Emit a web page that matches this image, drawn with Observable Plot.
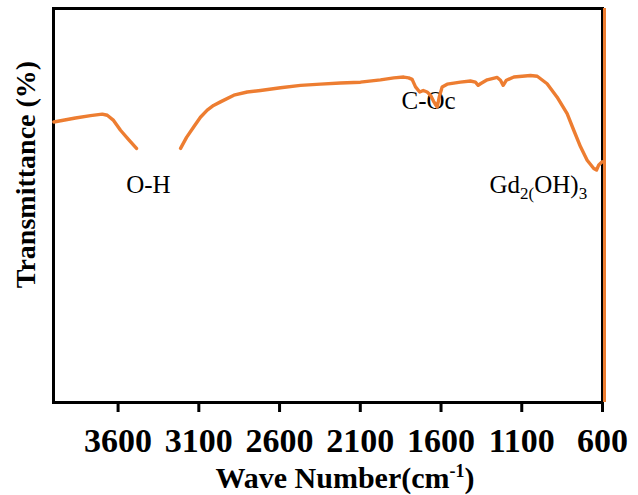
<!DOCTYPE html>
<html><head><meta charset="utf-8">
<script src="https://cdn.jsdelivr.net/npm/d3@7"></script>
<script src="https://cdn.jsdelivr.net/npm/@observablehq/plot@0.6"></script>
<style>body{margin:0;background:#fff}</style>
</head><body><div id="chart"></div>
<script>
// FTIR spectrum (wave number in cm-1, transmittance in arbitrary %)
const waveNumber = [3998,3864,3771,3698,3667,3628,3585,3536,3486,3350,3213,3176,3131,3090,3048,3009,2966,2883,2800,2718,2594,2470,2346,2223,2099,1975,1892,1831,1801,1779,1758,1732,1710,1686,1665,1647,1624,1610,1593,1562,1480,1418,1387,1370,1356,1314,1252,1232,1215,1195,1149,1046,1004,943,881,819,778,736,695,654,637,623,602];
const transmittance = [71.2,72.2,72.8,73.2,72.9,71.6,69.1,66.8,64.5,NaN,64.5,67.3,70.0,72.4,74.2,75.4,76.3,78.0,78.8,79.2,79.9,80.5,80.8,81.1,81.3,81.9,82.4,82.6,82.4,82.0,80.1,78.8,79.2,78.8,78.0,76.5,75.0,77.7,80.1,80.8,81.3,81.6,81.3,80.5,80.9,81.9,82.5,81.8,80.5,81.8,82.6,83.0,82.8,80.9,77.5,73.3,69.1,64.9,61.5,59.4,59.0,60.3,61.1];
const xTicks = [3600,3100,2600,2100,1600,1100,600];
const bandNames = ["O-H","C-Oc","Gd2(OH)3"];
const bandWave = [3412,1845,1300];
const bandLevel = [53.2,74.4,53.2];
const edgeWave = [600];
const xTitle = "Wave Number(cm-1)";
const yTitle = "Transmittance (%)";

const spectrum = waveNumber.map((w, i) => ({w, t: transmittance[i]}));
const bands = bandNames.map((n, i) => ({n, w: bandWave[i], t: bandLevel[i]}));
const orange = "#ED7D31";
const serif = "'Liberation Serif','Times New Roman',serif";

const chart = Plot.plot({
  width: 638,
  height: 495,
  marginLeft: 53,
  marginRight: 36,
  marginTop: 8,
  marginBottom: 93,
  style: {fontFamily: serif, background: "#fff", color: "#000"},
  x: {domain: [4000, 600]},
  y: {domain: [0, 100], axis: null},
  marks: [
    Plot.axisX({ticks: xTicks, tickSize: 10, strokeWidth: 3, text: null, label: null}),
    Plot.text(xTicks, {x: d => d, frameAnchor: "bottom", dy: 39, text: d => String(d), fontSize: 34, fontWeight: "bold", textAnchor: "middle", lineAnchor: "middle", fill: "#000"}),
    Plot.text(bands.filter(d => d.n === "O-H"), {x: "w", y: "t", text: "n", textAnchor: "middle", lineAnchor: "bottom", fontSize: 25, fill: "#000"}),
    Plot.text(bands.filter(d => d.n !== "O-H"), {x: "w", y: "t", text: "n", textAnchor: "start", lineAnchor: "bottom", fontSize: 25, fill: "#000"}),
    Plot.text([yTitle], {frameAnchor: "left", rotate: -90, dx: -27, dy: -31, fontSize: 28, fontWeight: "bold", textAnchor: "middle", lineAnchor: "middle", fill: "#000"}),
    Plot.text([xTitle], {frameAnchor: "bottom", dx: 17, dy: 76, fontSize: 30, fontWeight: "bold", textAnchor: "middle", lineAnchor: "middle", fill: "#000"}),
    Plot.frame({stroke: "#000", strokeWidth: 3}),
    Plot.line(spectrum, {x: "w", y: "t", stroke: orange, strokeWidth: 3.4, curve: "linear"}),
    Plot.ruleX(edgeWave, {stroke: orange, strokeWidth: 3, dx: 2})
  ]
});
document.getElementById("chart").appendChild(chart);

// subscripts / superscripts in text
const svg = d3.select(chart);
svg.selectAll("text").each(function() {
  const t = d3.select(this);
  const s = this.textContent;
  if (s === "Gd2(OH)3") {
    t.text(null);
    t.append("tspan").text("Gd");
    t.append("tspan").attr("font-size", 17).attr("dy", 6).text("2(");
    t.append("tspan").attr("dy", -6).text("OH)");
    t.append("tspan").attr("font-size", 17).attr("dy", 6).text("3");
  } else if (s === xTitle) {
    t.text(null);
    t.append("tspan").text("Wave Number(cm");
    t.append("tspan").attr("font-size", 18).attr("dy", -11).text("-1");
    t.append("tspan").attr("dy", 11).text(")");
  }
});
</script></body></html>
